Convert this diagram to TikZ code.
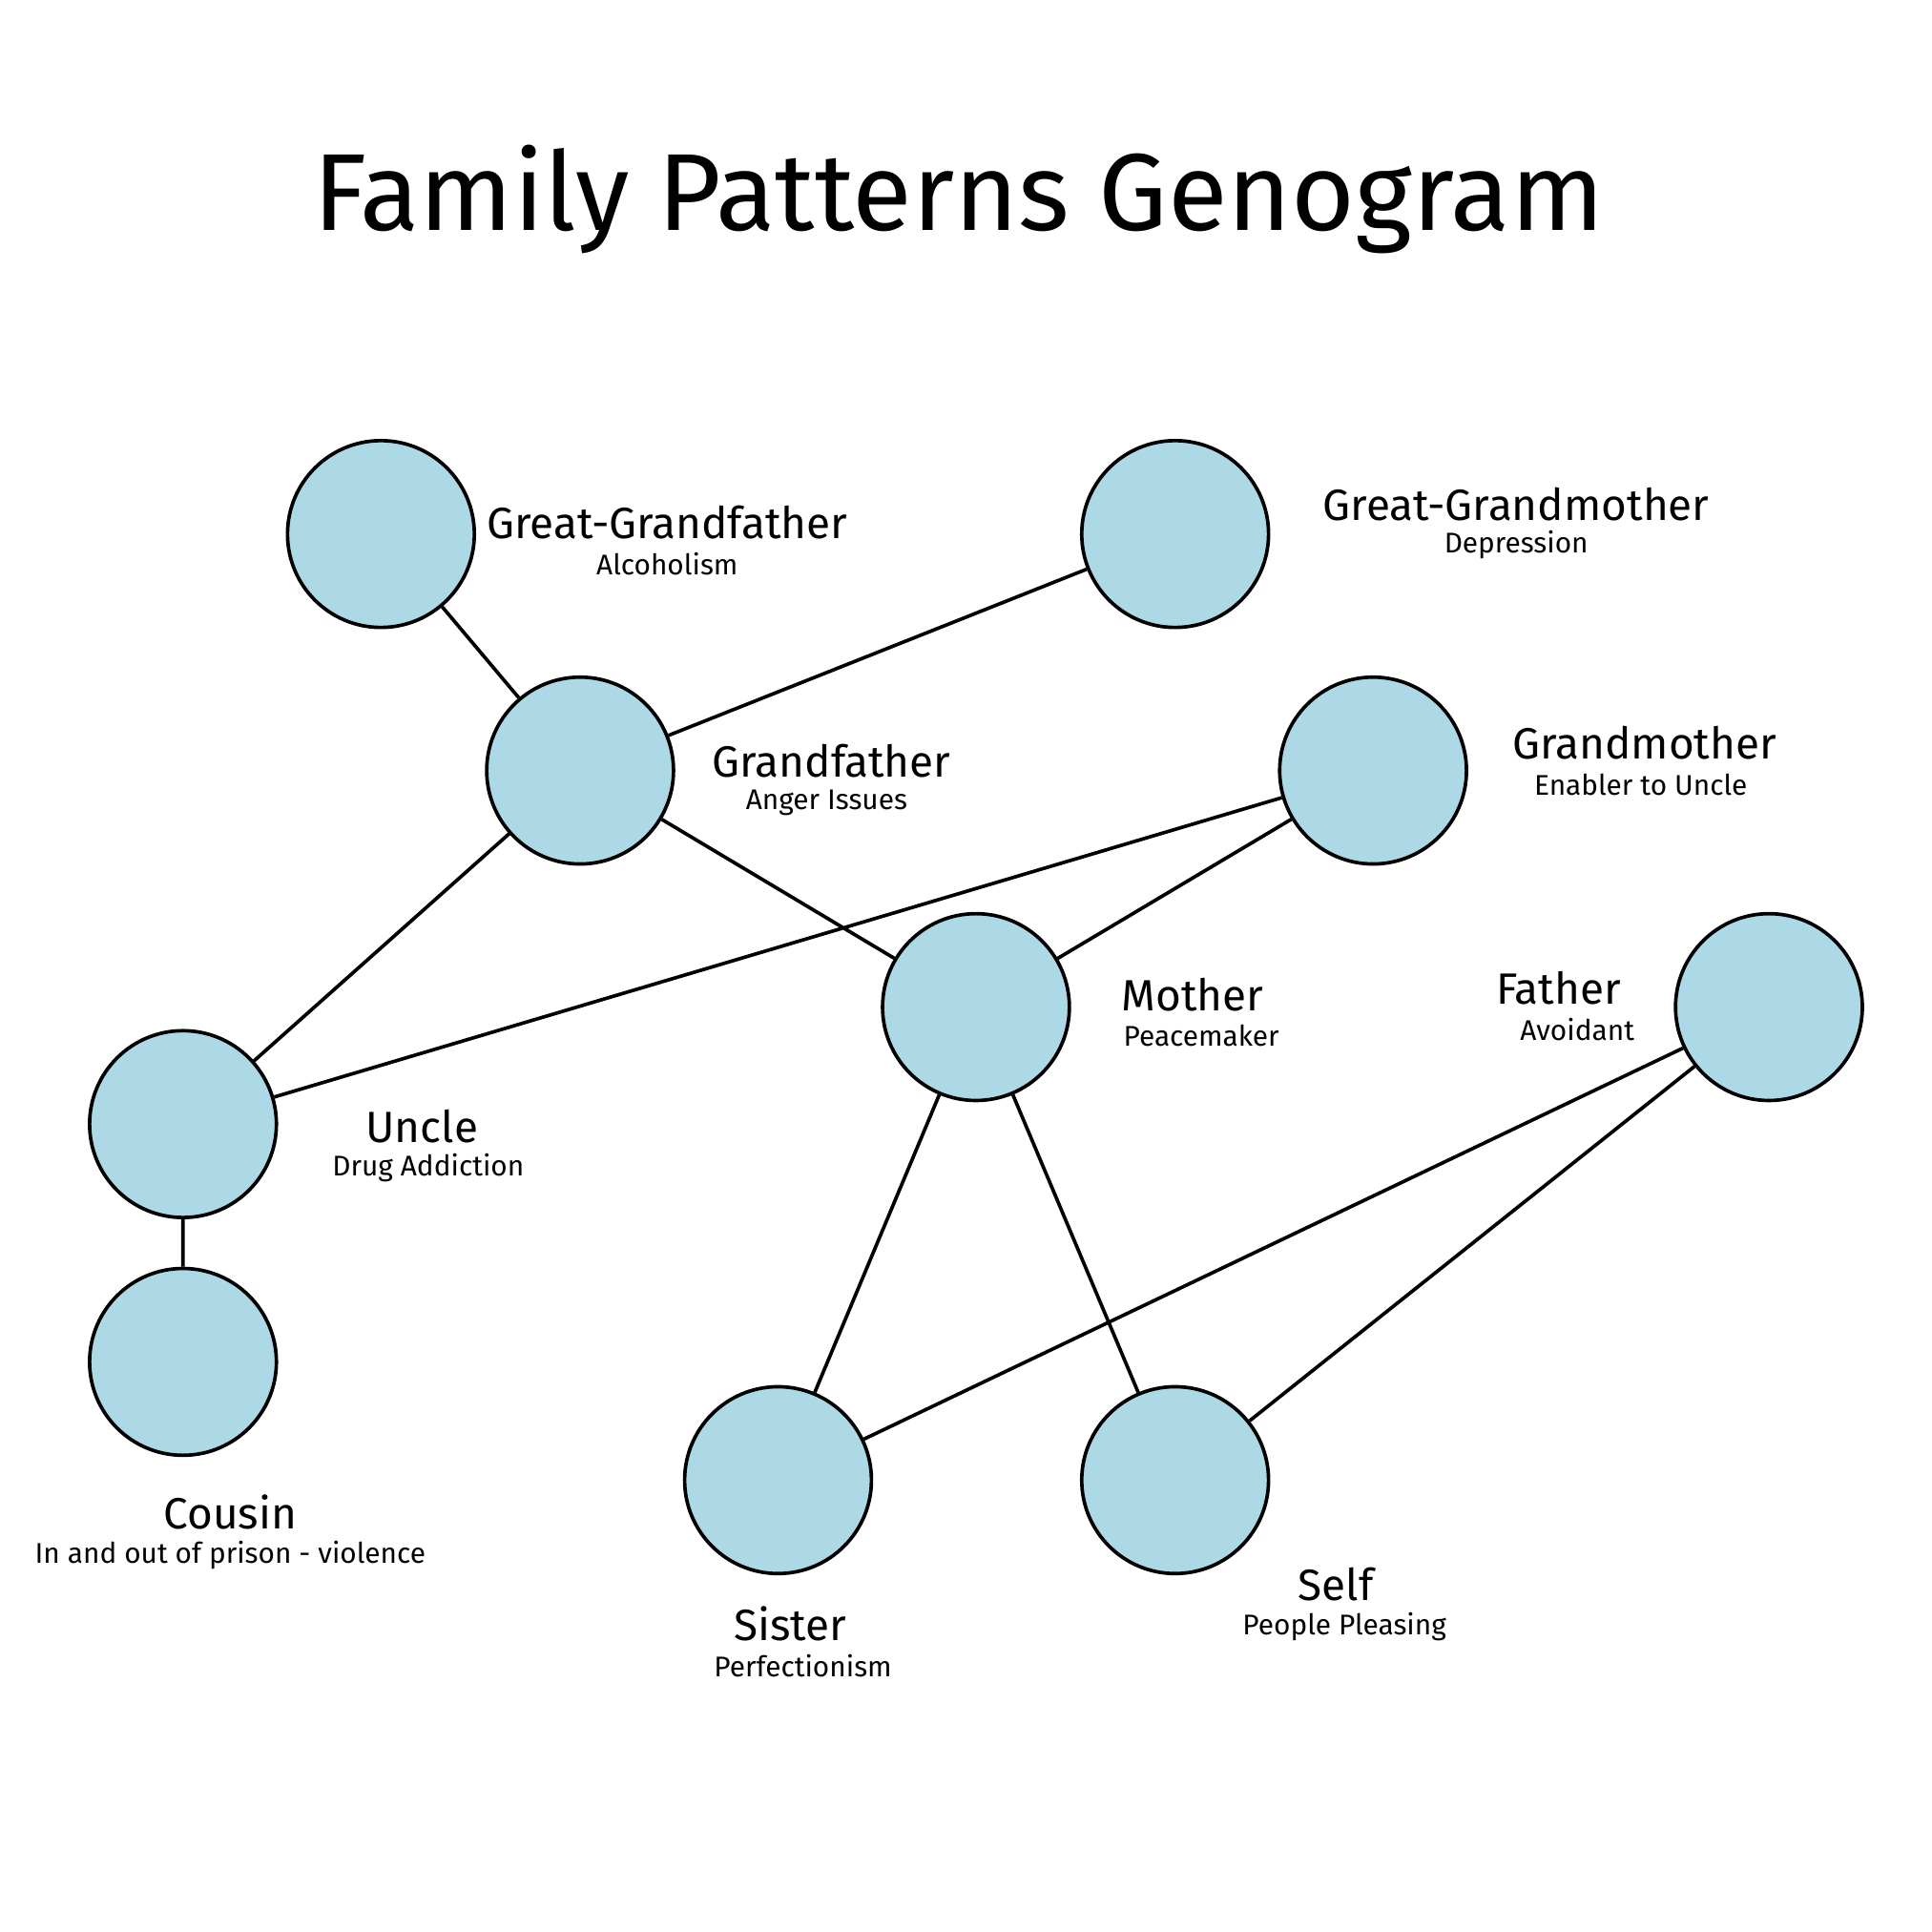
\documentclass[tikz,border=0pt]{standalone}
\usepackage{fontspec}
\setmainfont{Fira Sans}
\begin{document}
\begin{tikzpicture}[x=0.01cm,y=-0.01cm,
 p/.style={circle,draw=black,thick,fill=cyan!15!blue!10!white,fill=lightb,minimum size=1.5cm,inner sep=0},
 nm/.style={font=\fontsize{10}{12}\selectfont,align=center},
 sb/.style={font=\fontsize{6.5}{8}\selectfont}]
\definecolor{lightb}{HTML}{ADD8E6}
\useasboundingbox (0,0) rectangle (1552,1552);
\node[font=\fontsize{25}{30}\selectfont] (title) at (770,160) {Family Patterns Genogram};
\node[p] (ggf) at (306,429) {};
\node[p] (ggm) at (944,429) {};
\node[p] (gf) at (466,619) {};
\node[p] (gm) at (1103,619) {};
\node[p] (mo) at (784,809) {};
\node[p] (fa) at (1421,809) {};
\node[p] (un) at (147,903) {};
\node[p] (co) at (147,1094) {};
\node[p] (si) at (625,1189) {};
\node[p] (se) at (944,1189) {};
\draw[thick] (ggf)--(gf) (ggm)--(gf) (gf)--(mo) (gf)--(un) (gm)--(un) (gm)--(mo)
 (mo)--(si) (mo)--(se) (fa)--(si) (fa)--(se) (un)--(co);
\node[nm] (l1) at (536,420) {Great-Grandfather};
\node[sb] (s1) at (536,453) {Alcoholism};
\node[nm] (l2) at (1218,405) {Great-Grandmother};
\node[sb] (s2) at (1218,438) {Depression};
\node[nm] (l3) at (668,611) {Grandfather};
\node[sb] (s3) at (664,645) {Anger Issues};
\node[nm] (l4) at (1321,597) {Grandmother};
\node[sb] (s4) at (1318,630) {Enabler to Uncle};
\node[nm] (l5) at (958,799) {Mother};
\node[sb] (s5) at (965,832) {Peacemaker};
\node[nm] (l6) at (1252,794) {Father};
\node[sb] (s6) at (1267,827) {Avoidant};
\node[nm] (l7) at (339,905) {Uncle};
\node[sb] (s7) at (344,938) {Drug Addiction};
\node[nm] (l8) at (185,1215) {Cousin};
\node[sb] (s8) at (185,1249) {In and out of prison - violence};
\node[nm] (l9) at (635,1304) {Sister};
\node[sb] (s9) at (645,1338) {Perfectionism};
\node[nm] (l10) at (1073,1273) {Self};
\node[sb] (s10) at (1080,1307) {People Pleasing};
\end{tikzpicture}
\end{document}
